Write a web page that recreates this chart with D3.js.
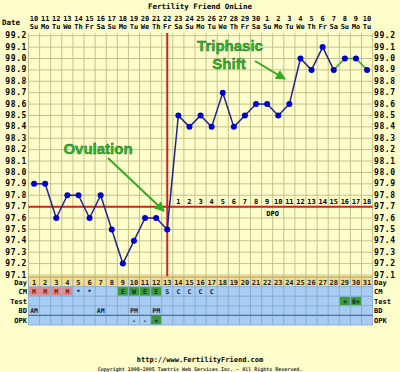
<!DOCTYPE html>
<html>
<head>
<meta charset="utf-8">
<script src="https://cdn.jsdelivr.net/npm/d3@7"></script>
<style>
  body { margin: 0; background: #FFFFCC; }
  svg text { font-family: "DejaVu Sans Mono", monospace; font-weight: bold; }
</style>
</head>
<body>
<div id="chart"></div>
<script>
// chart data
let days = d3.range(1, 32)
let dates = [10,11,12,13,14,15,16,17,18,19,20,21,22,23,24,25,26,27,28,29,30,1,2,3,4,5,6,7,8,9,10]
let weekdays = ['Su','Mo','Tu','We','Th','Fr','Sa','Su','Mo','Tu','We','Th','Fr','Sa','Su','Mo','Tu','We','Th','Fr','Sa','Su','Mo','Tu','We','Th','Fr','Sa','Su','Mo','Tu']
let temps = [97.9,97.9,97.6,97.8,97.8,97.6,97.8,97.5,97.2,97.4,97.6,97.6,97.5,98.5,98.4,98.5,98.4,98.7,98.4,98.5,98.6,98.6,98.5,98.6,99.0,98.9,99.1,98.9,99.0,99.0,98.9]
let tempTicks = [99.2,99.1,99.0,98.9,98.8,98.7,98.6,98.5,98.4,98.3,98.2,98.1,98.0,97.9,97.8,97.7,97.6,97.5,97.4,97.3,97.2,97.1]
let coverline = 97.7
let ovulationDay = 13
let dpo = [1,2,3,4,5,6,7,8,9,10,11,12,13,14,15,16,17,18]
let cm = ['M','M','M','M','*','*','','','E','W','E','E','S','C','C','C','C','','','','','','','','','','','','','','']
let test = ['','','','','','','','','','','','','','','','','','','','','','','','','','','','','+','0+','']
let bd = ['AM','','','','','','AM','','','PM','','PM','','','','','','','','','','','','','','','','','','','']
let opk = ['','','','','','','','','','-','-','+','','','','','','','','','','','','','','','','','','','']
let rowNames = ['CM','Test','BD','OPK']

let W = 400, H = 372
let svg = d3.select('#chart').append('svg').attr('width', W).attr('height', H)
svg.append('rect').attr('width', W).attr('height', H).attr('fill', '#FFFFCC')

let x = d3.scaleBand().domain(days).range([28.5, 372.6])
let cx = d => x(d) + x.bandwidth() / 2
let y = d3.scaleLinear().domain([97.1, 99.2]).range([275, 35.7])

// title + header
svg.append('text').attr('x', 200).attr('y', 9).attr('text-anchor', 'middle')
  .attr('font-size', 7.5).attr('fill', '#000').text('Fertility Friend OnLine')
svg.append('text').attr('x', 2).attr('y', 25).attr('font-size', 7.5).text('Date')
svg.selectAll('.date').data(days).enter().append('text')
  .attr('x', d => cx(d)).attr('y', 21).attr('text-anchor', 'middle').attr('font-size', 7)
  .text((d, i) => dates[i])
svg.selectAll('.wd').data(days).enter().append('text')
  .attr('x', d => cx(d)).attr('y', 29).attr('text-anchor', 'middle').attr('font-size', 7)
  .text((d, i) => weekdays[i])

// grid
let grid = svg.append('g').attr('stroke', '#C4C08A').attr('stroke-width', 1)
grid.selectAll('.h').data(tempTicks).enter().append('line')
  .attr('x1', 28.5).attr('x2', 372.6).attr('y1', d => y(d)).attr('y2', d => y(d))
grid.selectAll('.v').data(d3.range(32)).enter().append('line')
  .attr('x1', d => 28.5 + d * x.bandwidth()).attr('x2', d => 28.5 + d * x.bandwidth())
  .attr('y1', 33).attr('y2', 277)

// y labels both sides
svg.selectAll('.yl').data(tempTicks).enter().append('text')
  .attr('x', 27).attr('y', d => y(d) + 2.5).attr('text-anchor', 'end')
  .attr('font-size', 8).attr('letter-spacing', 0.6).text(d => d.toFixed(1))
svg.selectAll('.yr').data(tempTicks).enter().append('text')
  .attr('x', 374).attr('y', d => y(d) + 2.5)
  .attr('font-size', 8).attr('letter-spacing', 0.6).text(d => d.toFixed(1))

// coverline + ovulation line
svg.append('line').attr('x1', 28.5).attr('x2', 372.6).attr('y1', y(coverline)).attr('y2', y(coverline))
  .attr('stroke', '#D42020').attr('stroke-width', 2)
svg.append('line').attr('x1', cx(ovulationDay)).attr('x2', cx(ovulationDay)).attr('y1', 33).attr('y2', 277)
  .attr('stroke', '#D42020').attr('stroke-width', 2)
svg.selectAll('.dpo').data(dpo).enter().append('text')
  .attr('x', (d, i) => cx(ovulationDay + 1 + i)).attr('y', y(coverline) - 3)
  .attr('text-anchor', 'middle').attr('font-size', 7).text(d => d)
svg.append('text').attr('x', (cx(22) + cx(23)) / 2).attr('y', y(coverline) + 9)
  .attr('text-anchor', 'middle').attr('font-size', 7).text('DPO')

// temperature line
let pts = days.map((d, i) => [cx(d), y(temps[i]), d])
let segs = svg.append('g')
for (let i = 1; i < pts.length; i++) {
  segs.append('line').attr('x1', pts[i-1][0]).attr('y1', pts[i-1][1])
    .attr('x2', pts[i][0]).attr('y2', pts[i][1])
    .attr('stroke', pts[i][2] >= 29 ? '#33AA33' : '#22228C').attr('stroke-width', 1.5)
}
svg.selectAll('.dot').data(pts).enter().append('circle')
  .attr('cx', d => d[0]).attr('cy', d => d[1]).attr('r', 3).attr('fill', '#0000CC')

// annotations
let defs = svg.append('defs')
defs.append('marker').attr('id', 'ah').attr('viewBox', '0 0 10 10').attr('refX', 9).attr('refY', 5)
  .attr('markerWidth', 5).attr('markerHeight', 5).attr('orient', 'auto')
  .append('path').attr('d', 'M0,0L10,5L0,10z').attr('fill', '#33AA22')
function label(txt, lx, ly) {
  svg.append('text').attr('x', lx).attr('y', ly).attr('text-anchor', 'middle')
    .attr('font-size', 15)
    .attr('fill', '#2DB52D').attr('stroke', '#1A6A1A').attr('stroke-width', 0.4)
    .style('font-family', 'Liberation Sans, Arial, sans-serif').text(txt)
}
label('Ovulation', 98, 154)
label('Triphasic', 230, 51)
label('Shift', 229, 69)
svg.append('line').attr('x1', 108).attr('y1', 158).attr('x2', 164).attr('y2', 211)
  .attr('stroke', '#33AA22').attr('stroke-width', 2).attr('marker-end', 'url(#ah)')
svg.append('line').attr('x1', 255).attr('y1', 61).attr('x2', 285).attr('y2', 79)
  .attr('stroke', '#33AA22').attr('stroke-width', 2).attr('marker-end', 'url(#ah)')

// table
let rowY = d3.scaleBand().domain(['Day'].concat(rowNames)).range([277, 325])
let rh = rowY.bandwidth()
svg.append('rect').attr('x', 28.5).attr('y', rowY('Day')).attr('width', 344.1).attr('height', rh)
  .attr('fill', '#F6DC8E')
svg.append('rect').attr('x', 28.5).attr('y', rowY('CM')).attr('width', 344.1).attr('height', rh * 4)
  .attr('fill', '#A9CDF2')
let rows = {CM: cm, Test: test, BD: bd, OPK: opk}
let cellColor = v => v === 'M' ? '#E08C8C' : (v === 'E' || v === 'W' || v === '+' || v === '0+') ? '#3C9C3C' : null
rowNames.forEach(r => {
  let vals = rows[r]
  svg.selectAll('.c' + r).data(days.filter((d, i) => cellColor(vals[i]))).enter().append('rect')
    .attr('x', d => x(d) + 0.5).attr('y', rowY(r) + 0.5).attr('width', x.bandwidth() - 1).attr('height', rh - 1)
    .attr('fill', d => cellColor(vals[d - 1]))
})
let tg = svg.append('g').attr('stroke', '#7FA4CC').attr('stroke-width', 0.8)
tg.selectAll('.tv').data(d3.range(32)).enter().append('line')
  .attr('x1', d => 28.5 + d * x.bandwidth()).attr('x2', d => 28.5 + d * x.bandwidth())
  .attr('y1', 277).attr('y2', 325)
tg.selectAll('.th').data(rowNames.concat(['end'])).enter().append('line')
  .attr('x1', 28.5).attr('x2', 372.6)
  .attr('y1', d => d === 'end' ? 325 : rowY(d)).attr('y2', d => d === 'end' ? 325 : rowY(d))
svg.append('line').attr('x1', 28.5).attr('x2', 372.6).attr('y1', 277).attr('y2', 277)
  .attr('stroke', '#C8B060').attr('stroke-width', 1.5)
svg.append('line').attr('x1', 28.5).attr('x2', 372.6).attr('y1', rowY('OPK')).attr('y2', rowY('OPK'))
  .attr('stroke', '#4A72A8').attr('stroke-width', 1.2)

let tb = rh - 2
svg.selectAll('.dn').data(days).enter().append('text')
  .attr('x', d => cx(d)).attr('y', rowY('Day') + tb).attr('text-anchor', 'middle')
  .attr('font-size', 7).attr('fill', '#222').text(d => d)
rowNames.forEach(r => {
  let vals = rows[r]
  svg.selectAll('.t' + r).data(days.filter((d, i) => vals[i])).enter().append('text')
    .attr('x', d => cx(d)).attr('y', rowY(r) + tb).attr('text-anchor', 'middle')
    .attr('font-size', 6.5).attr('fill', d => vals[d - 1] === 'M' ? '#801010' : '#102040')
    .text(d => vals[d - 1])
})
let allRows = ['Day'].concat(rowNames)
svg.selectAll('.rl').data(allRows).enter().append('text')
  .attr('x', 27).attr('y', d => rowY(d) + tb).attr('text-anchor', 'end')
  .attr('font-size', 7).text(d => d)
svg.selectAll('.rr').data(allRows).enter().append('text')
  .attr('x', 374).attr('y', d => rowY(d) + tb)
  .attr('font-size', 7).text(d => d)

// footer
svg.append('text').attr('x', 200).attr('y', 362).attr('text-anchor', 'middle')
  .attr('font-size', 7).text('http://www.FertilityFriend.com')
svg.append('text').attr('x', 200).attr('y', 370.5).attr('text-anchor', 'middle')
  .attr('font-size', 5).attr('fill', '#333')
  .text('Copyright 1998-2005 Tamtris Web Services Inc. - All Rights Reserved.')
</script>
</body>
</html>
